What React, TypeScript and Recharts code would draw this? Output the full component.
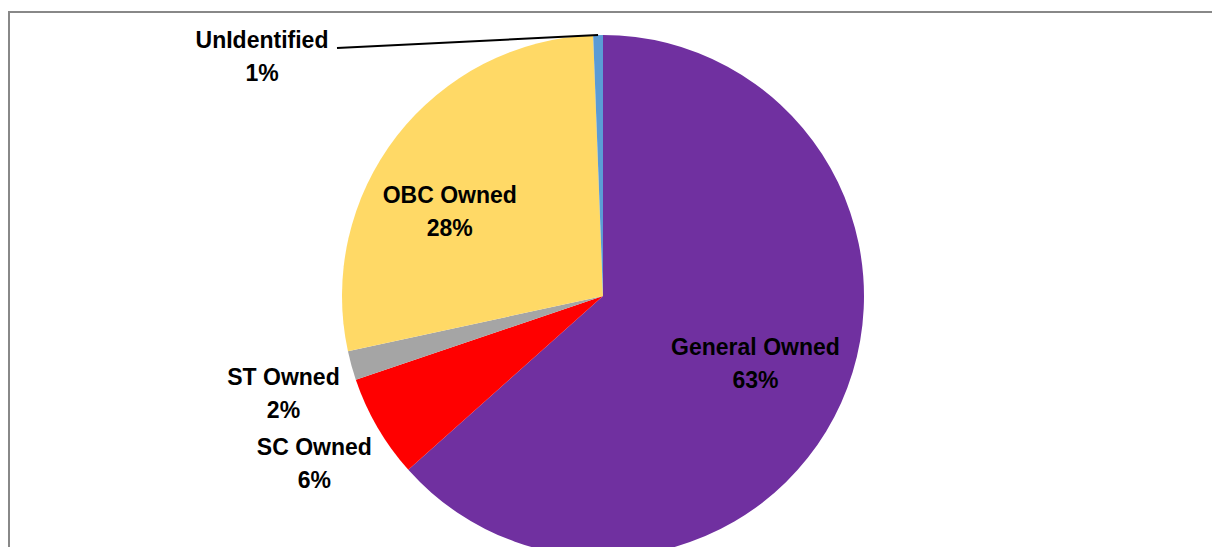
import React from "react";
import { PieChart, Pie, Cell } from "recharts";

const categories = ["General Owned", "SC Owned", "ST Owned", "OBC Owned", "UnIdentified"];
const shares = [63.4, 6.4, 1.8, 27.8, 0.6];
const colors = ["#7030A0", "#FF0000", "#A5A5A5", "#FFD966", "#5B9BD5"];
const labelKinds = ["inside", "outside", "outside", "inside", "callout"];

const data = categories.map((name, i) => ({ name, value: shares[i] }));

const RAD = Math.PI / 180;
const FONT = "'Liberation Sans', Arial, sans-serif";
// label placement: radius factor and angle nudge (degrees) per slice
const labelRadius = [0.64, 1.28, 1.28, 0.67, 0];
const labelNudge = [0, 0, 1.5, 9, 0];

const renderLabel = (props: any) => {
  const { cx, cy, midAngle, outerRadius, percent, index, name } = props;
  const kind = labelKinds[index];
  const pct = `${Math.round(percent * 100)}%`;
  const common = {
    fontFamily: FONT,
    fontWeight: 700,
    fontSize: 23,
    fill: "#000",
    textAnchor: "middle" as const,
  };
  if (kind === "callout") {
    const lx = cx - 341;
    const ly = cy - outerRadius + 5 + 17;
    const ex = cx + outerRadius * Math.cos(-midAngle * RAD);
    const ey = cy + outerRadius * Math.sin(-midAngle * RAD);
    return (
      <g key={`lbl-${index}`}>
        <path d={`M${lx + 75},${ly - 9} L${ex},${ey}`} stroke="#000" strokeWidth={2} fill="none" />
        <text x={lx} y={ly - 17} dy="0.35em" {...common}>{name}</text>
        <text x={lx} y={ly + 16} dy="0.35em" {...common}>{pct}</text>
      </g>
    );
  }
  const r = outerRadius * labelRadius[index];
  const a = midAngle + labelNudge[index];
  const x = cx + r * Math.cos(-a * RAD);
  const y = cy + r * Math.sin(-a * RAD);
  return (
    <g key={`lbl-${index}`}>
      <text x={x} y={y - 17} dy="0.35em" {...common}>{name}</text>
      <text x={x} y={y + 16} dy="0.35em" {...common}>{pct}</text>
    </g>
  );
};

export default function App() {
  return (
    <div style={{ position: "relative", width: 1212, height: 539 }}>
      <svg
        width={1212}
        height={539}
        style={{ position: "absolute", left: 0, top: 0 }}
      >
        <line x1={1} y1={4} x2={1212} y2={4} stroke="#888888" strokeWidth={2} />
        <line x1={1} y1={3} x2={1} y2={539} stroke="#888888" strokeWidth={2} />
      </svg>
      <div style={{ position: "absolute", left: 0, top: 0 }}>
        <PieChart width={1212} height={539} margin={{ top: 0, right: 0, bottom: 0, left: 0 }}>
          <Pie
            data={data}
            dataKey="value"
            nameKey="name"
            cx={595}
            cy={288}
            outerRadius={261}
            startAngle={90}
            endAngle={-270}
            stroke="none"
            label={renderLabel}
            labelLine={false}
            isAnimationActive={false}
          >
            {data.map((d, i) => (
              <Cell key={d.name} fill={colors[i]} />
            ))}
          </Pie>
        </PieChart>
      </div>
    </div>
  );
}
